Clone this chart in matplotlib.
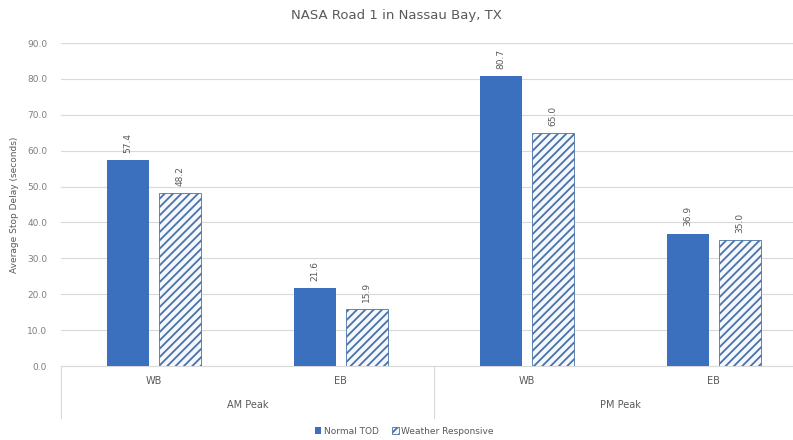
import matplotlib
matplotlib.use("Agg")
import matplotlib.pyplot as plt
import numpy as np

plt.rcParams['hatch.linewidth'] = 1.3

directions = ["WB", "EB", "WB", "EB"]
periods = ["AM Peak", "PM Peak"]
normal_tod = [57.4, 21.6, 80.7, 36.9]
weather_resp = [48.2, 15.9, 65.0, 35.0]
series_names = ["Normal TOD", "Weather Responsive"]

blue = "#3B70BE"
hatch_col = "#4A72A8"
grey = "#7F7F7F"
grid_col = "#D9D9D9"

fig = plt.figure(figsize=(7.93, 4.40), dpi=100)
ax = fig.add_axes([61 / 793, 1 - 366 / 440, 746 / 793, 323 / 440])

x = np.arange(len(directions))
w = 0.225
b1 = ax.bar(x - 0.14, normal_tod, w, color=blue, zorder=3)
b2 = ax.bar(x + 0.14, weather_resp, w, color="#F4F7FC", edgecolor=hatch_col,
            hatch="////", linewidth=0.6, zorder=3)

for bars, vals in ((b1, normal_tod), (b2, weather_resp)):
    for r, v in zip(bars, vals):
        ax.text(r.get_x() + r.get_width() / 2, v + 2.0, f"{v:.1f}", rotation=90,
                ha="center", va="bottom", fontsize=6.5, color="#595959")

ax.set_xlim(-0.5, len(directions) - 0.5)
ax.set_ylim(0, 90)
ax.set_yticks(np.arange(0, 91, 10))
ax.set_yticklabels([f"{t:.1f}" for t in np.arange(0, 91, 10)], fontsize=6.5, color="#7F7F7F")
ax.yaxis.grid(True, color=grid_col, linewidth=0.8, zorder=0)
ax.tick_params(axis="y", length=0, pad=10)
ax.tick_params(axis="x", length=0)
ax.set_xticks([])
for s in ("top", "right", "left"):
    ax.spines[s].set_visible(False)
ax.spines["bottom"].set_color(grid_col)

ax.set_ylabel("Average Stop Delay (seconds)", fontsize=6.5, color="#595959", labelpad=6)

# category and group labels below axis
trans = ax.get_xaxis_transform()
for xi, d in zip(x, directions):
    ax.text(xi, -0.045, d, transform=trans, ha="center", va="center", fontsize=7, color="#595959")
for gi, p in enumerate(periods):
    ax.text(2 * gi + 0.5, -0.12, p, transform=trans, ha="center", va="center", fontsize=7, color="#595959")
for xs in (-0.5, 1.5, 3.5):
    ax.plot([xs, xs], [0, -0.16], transform=trans, color=grid_col, linewidth=0.8, clip_on=False)

fig.text(0.5, 1 - 15 / 440, "NASA Road 1 in Nassau Bay, TX", ha="center", va="center",
         fontsize=9.5, color="#595959")

leg = fig.legend([b1, b2], series_names, loc="center", bbox_to_anchor=(0.51, 1 - 431 / 440),
                 ncol=2, frameon=False, fontsize=6.5, handlelength=0.7, handleheight=0.7,
                 handletextpad=0.3, columnspacing=1.5)
for t in leg.get_texts():
    t.set_color("#595959")

fig.savefig("out.png", dpi=100)
